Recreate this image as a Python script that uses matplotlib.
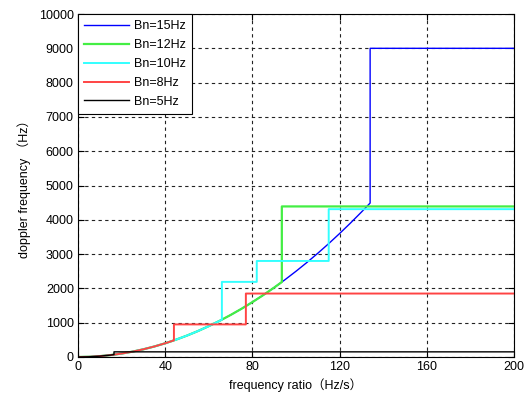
import numpy as np
import matplotlib
matplotlib.use("Agg")
import matplotlib.pyplot as plt

plt.rcParams['font.family'] = ['Liberation Sans', 'Noto Sans CJK SC', 'DejaVu Sans']

# shared rising curve
curve_x = [0, 5, 10, 15, 20, 25, 30, 35, 40, 45, 50, 55, 60, 65, 70, 75, 80,
           85, 90, 95, 100, 105, 110, 115, 120, 125, 130, 134]
curve_y = [0, 6, 25, 56, 100, 156, 225, 306, 400, 506, 625, 756, 900, 1056,
           1225, 1406, 1600, 1806, 2025, 2256, 2500, 2756, 3025, 3306, 3600,
           3906, 4225, 4489]

labels = ['Bn=15Hz', 'Bn=12Hz', 'Bn=10Hz', 'Bn=8Hz', 'Bn=5Hz']
colors = ['#0000FF', '#44EE44', '#33FFFF', '#FF4444', '#000000']
widths = [1.0, 1.6, 1.4, 1.4, 1.0]
# x where each series leaves the curve
break_x = [134, 93.5, 66, 44, 16.5]
# subsequent step positions and levels
step_x = [[], [], [82, 115], [77], []]
levels = [[9000], [4390], [2190, 2800, 4310], [950, 1850], [150]]
x_end = 200

xticks = [0, 40, 80, 120, 160, 200]
yticks = list(range(0, 10001, 1000))

fig = plt.figure(figsize=(5.26, 3.96), dpi=100)
ax = fig.add_axes([0.1483, 0.0985, 0.8289, 0.8661])

for lab, col, lw, bx, sx, lv in zip(labels, colors, widths, break_x, step_x, levels):
    cx = np.array(curve_x, dtype=float)
    cy = np.array(curve_y, dtype=float)
    m = cx < bx
    xs = list(cx[m]) + [bx]
    ys = list(cy[m]) + [float(np.interp(bx, cx, cy))]
    edges = [bx] + sx + [x_end]
    for i, level in enumerate(lv):
        xs += [edges[i], edges[i + 1]]
        ys += [level, level]
    ax.plot(xs, ys, color=col, lw=lw, label=lab)

ax.set_xlim(0, 200)
ax.set_ylim(0, 10000)
ax.set_xticks(xticks)
ax.set_yticks(yticks)
ax.tick_params(direction='in', top=True, right=True, labelsize=9, length=4, pad=3)
ax.grid(True, color='#222222', linestyle=(0, (3, 3)), linewidth=0.8)
for s in ax.spines.values():
    s.set_linewidth(0.8)

ax.set_xlabel('frequency ratio（Hz/s）', fontsize=9, labelpad=4)
ax.set_ylabel('doppler frequency （Hz）', fontsize=9, labelpad=6)

leg = ax.legend(loc='upper left', fontsize=9, fancybox=False, framealpha=1,
                edgecolor='black', borderaxespad=0, handlelength=3.6,
                handletextpad=0.4, labelspacing=0.55, borderpad=0.5)
leg.get_frame().set_linewidth(0.8)

fig.savefig('out.png', dpi=100)
